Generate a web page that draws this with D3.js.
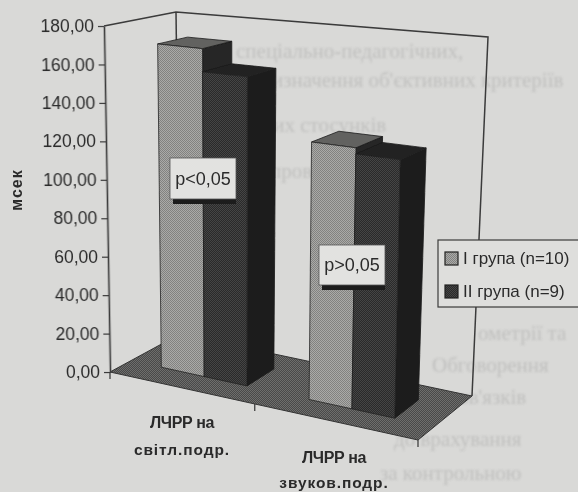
<!DOCTYPE html>
<html>
<head>
<meta charset="utf-8">
<script src="https://cdn.jsdelivr.net/npm/d3@7"></script>
<style>
  html, body { margin: 0; padding: 0; background: #d9d9d7; }
  svg { display: block; }
  text { font-family: "Liberation Sans", Arial, sans-serif; fill: #2b2b2b; }
  .ghost text { font-family: "Liberation Serif", serif; fill: #777; opacity: .25; font-size: 21px; }
</style>
</head>
<body>
<div id="chart"></div>
<script>
let categories = [['ЛЧРР на', 'світл.подр.'], ['ЛЧРР на', 'звуков.подр.']];
let seriesNames = ['I група (n=10)', 'II група (n=9)'];
let groupI = [170, 129];
let groupII = [158, 126];
let tickValues = [0, 20, 40, 60, 80, 100, 120, 140, 160, 180];
let pLabels = ['p<0,05', 'p>0,05'];

// page text showing through the scan
let ghostLines = [
  ['спеціально-педагогічних,', 236, 58],
  ['визначення об\'єктивних критеріїв', 262, 87],
  ['них стосунків', 262, 132],
  ['проводилося', 270, 178],
  ['ометрії та', 478, 340],
  ['Обговорення', 432, 372],
  ['взаємозв\'язків', 400, 404],
  ['до врахування', 394, 446],
  ['за контрольною', 380, 480]
];

let width = 578, height = 492;

let svg = d3.select('#chart').append('svg')
  .attr('width', width)
  .attr('height', height);

let defs = svg.append('defs');
defs.append('filter').attr('id', 'soft')
  .append('feGaussianBlur').attr('stdDeviation', 0.45);
defs.append('filter').attr('id', 'softer')
  .append('feGaussianBlur').attr('stdDeviation', 0.9);

function dither(id, base, dot, size) {
  let p = defs.append('pattern').attr('id', id)
    .attr('width', size).attr('height', size)
    .attr('patternUnits', 'userSpaceOnUse');
  p.append('rect').attr('width', size).attr('height', size).attr('fill', base);
  p.append('rect').attr('width', size / 2).attr('height', size / 2).attr('fill', dot);
  p.append('rect').attr('x', size / 2).attr('y', size / 2)
    .attr('width', size / 2).attr('height', size / 2).attr('fill', dot);
}
dither('light', '#aaaaa8', '#828280', 2);
dither('dark', '#2a2a2a', '#444444', 2);
dither('floor', '#4a4a48', '#6e6e6c', 2);

// chart box corners: floor point and the point 180 above it
let corners = {
  fl: {x0: 110, y0: 372, x1: 104, y1: 26},
  bl: {x0: 180, y0: 334, x1: 176, y1: 12},
  br: {x0: 472, y0: 396, x1: 488, y1: 37},
  fr: {x0: 418, y0: 440, x1: 425, y1: 60}
};

let v = d3.scaleLinear().domain([0, 180]).range([0, 1]);

// t runs along the category edge, d runs from front to back
function project(t, d, value) {
  let k = v(value);
  let at = c => [c.x0 + (c.x1 - c.x0) * k, c.y0 + (c.y1 - c.y0) * k];
  let fl = at(corners.fl), bl = at(corners.bl), br = at(corners.br), fr = at(corners.fr);
  let mix = i => (1 - t) * (1 - d) * fl[i] + (1 - t) * d * bl[i] + t * (1 - d) * fr[i] + t * d * br[i];
  return [mix(0), mix(1)];
}

let x0 = d3.scaleBand().domain([0, 1]).range([0.1, 0.87]).paddingInner(0.42);
let x1 = d3.scaleBand().domain([0, 1]).range([0, x0.bandwidth()]);
let depth = {front: 0.3, back: 0.72};
let line = d3.line();

let ghost = svg.append('g').attr('class', 'ghost').attr('filter', 'url(#softer)');
ghost.selectAll('text').data(ghostLines).enter().append('text')
  .attr('x', d => d[1])
  .attr('y', d => d[2])
  .text(d => d[0]);

let plot = svg.append('g').attr('filter', 'url(#soft)');

// walls
let wall = [project(0, 0, 180), project(0, 1, 180), project(1, 1, 180), project(1, 1, 0)];
plot.append('path').attr('d', line(wall))
  .attr('fill', 'none').attr('stroke', '#3a3a3a').attr('stroke-width', 1.5);
plot.append('path').attr('d', line([project(0, 1, 180), project(0, 1, 0)]))
  .attr('stroke', '#3a3a3a').attr('stroke-width', 1.5);

// floor
let floor = [project(0, 0, 0), project(0, 1, 0), project(1, 1, 0), project(1, 0, 0)];
plot.append('path').attr('d', line(floor) + 'Z')
  .attr('fill', 'url(#floor)').attr('stroke', '#333').attr('stroke-width', 1);

[0, 0.47, 1].forEach(t => {
  let p = project(t, 0, 0);
  plot.append('line')
    .attr('x1', p[0]).attr('y1', p[1])
    .attr('x2', p[0]).attr('y2', p[1] + 7)
    .attr('stroke', '#333').attr('stroke-width', 1.2);
});

// bars
let bars = [];
categories.forEach((c, i) => {
  [groupI, groupII].forEach((s, j) => bars.push({cat: i, ser: j, value: s[i]}));
});

let faces = {
  0: {front: 'url(#light)', side: '#262626', top: '#626260'},
  1: {front: 'url(#dark)', side: '#1f1f1f', top: '#232323'}
};

let bar = plot.selectAll('g.bar').data(bars).enter().append('g').attr('class', 'bar');

bar.append('path')
  .attr('fill', d => faces[d.ser].side)
  .attr('stroke', '#1a1a1a').attr('stroke-width', 0.8)
  .attr('d', d => {
    let t = x0(d.cat) + x1(d.ser) + x1.bandwidth();
    return line([project(t, depth.front, d.value), project(t, depth.back, d.value),
      project(t, depth.back, 0), project(t, depth.front, 0)]) + 'Z';
  });

bar.append('path')
  .attr('fill', d => faces[d.ser].top)
  .attr('stroke', '#1a1a1a').attr('stroke-width', 0.8)
  .attr('d', d => {
    let a = x0(d.cat) + x1(d.ser), b = a + x1.bandwidth();
    return line([project(a, depth.front, d.value), project(a, depth.back, d.value),
      project(b, depth.back, d.value), project(b, depth.front, d.value)]) + 'Z';
  });

bar.append('path')
  .attr('fill', d => faces[d.ser].front)
  .attr('stroke', '#222').attr('stroke-width', 0.8)
  .attr('d', d => {
    let a = x0(d.cat) + x1(d.ser), b = a + x1.bandwidth();
    return line([project(a, depth.front, d.value), project(b, depth.front, d.value),
      project(b, depth.front, 0), project(a, depth.front, 0)]) + 'Z';
  });

// value axis
let y = d3.scaleLinear().domain([0, 180]).range([0, -346]);
let yAxis = d3.axisLeft(y)
  .tickValues(tickValues)
  .tickSize(6)
  .tickSizeOuter(0)
  .tickPadding(4)
  .tickFormat(d => d3.format('.2f')(d).replace('.', ','));

let axisG = svg.append('g')
  .attr('filter', 'url(#soft)')
  .attr('transform', 'translate(110,372) skewX(1)')
  .call(yAxis);
axisG.select('.domain').attr('stroke', '#3a3a3a').attr('stroke-width', 1.6);
axisG.selectAll('.tick line').attr('stroke', '#3a3a3a').attr('stroke-width', 1.2);
axisG.selectAll('.tick text')
  .style('font-family', '"Liberation Sans", Arial, sans-serif')
  .style('font-size', '17.5px')
  .attr('fill', '#2b2b2b');

let labels = svg.append('g').attr('filter', 'url(#soft)');

labels.append('text')
  .attr('transform', 'translate(22,190) rotate(-90)')
  .attr('text-anchor', 'middle')
  .style('font-size', '16px')
  .style('font-weight', 'bold')
  .style('letter-spacing', '1px')
  .text('мсек');

// category labels
let catPos = [{x: 182, y: [428, 455]}, {x: 334, y: [463, 488]}];
categories.forEach((c, i) => {
  c.forEach((s, k) => {
    labels.append('text')
      .attr('x', catPos[i].x)
      .attr('y', catPos[i].y[k])
      .attr('text-anchor', 'middle')
      .style('font-size', k === 0 ? '16px' : '15.5px')
      .style('font-weight', 'bold')
      .style('letter-spacing', k === 0 ? '-0.4px' : '0.9px')
      .text(s);
  });
});

// p boxes
let pBoxes = [{x: 170, y: 158, w: 66, h: 41}, {x: 319, y: 245, w: 66, h: 40}];
pBoxes.forEach((b, i) => {
  labels.append('rect')
    .attr('x', b.x + 3).attr('y', b.y + 4)
    .attr('width', b.w - 3).attr('height', b.h + 1)
    .attr('fill', '#1b1b1b');
  labels.append('rect')
    .attr('x', b.x).attr('y', b.y)
    .attr('width', b.w).attr('height', b.h)
    .attr('fill', '#e2e2e0').attr('stroke', '#555').attr('stroke-width', 0.8);
  labels.append('text')
    .attr('x', b.x + b.w / 2).attr('y', b.y + b.h / 2 + 6)
    .attr('text-anchor', 'middle')
    .style('font-size', '18px')
    .text(pLabels[i]);
});

// legend
let legend = labels.append('g').attr('transform', 'translate(438,240)');
legend.append('rect')
  .attr('width', 142).attr('height', 67)
  .attr('fill', '#dededc').attr('stroke', '#3a3a3a').attr('stroke-width', 1.2);
seriesNames.forEach((s, i) => {
  legend.append('rect')
    .attr('x', 7).attr('y', 12 + i * 33)
    .attr('width', 13).attr('height', 13)
    .attr('fill', faces[i].front).attr('stroke', '#222').attr('stroke-width', 1.2);
  legend.append('text')
    .attr('x', 25).attr('y', 24 + i * 33)
    .style('font-size', '17px')
    .text(s);
});
</script>
</body>
</html>
